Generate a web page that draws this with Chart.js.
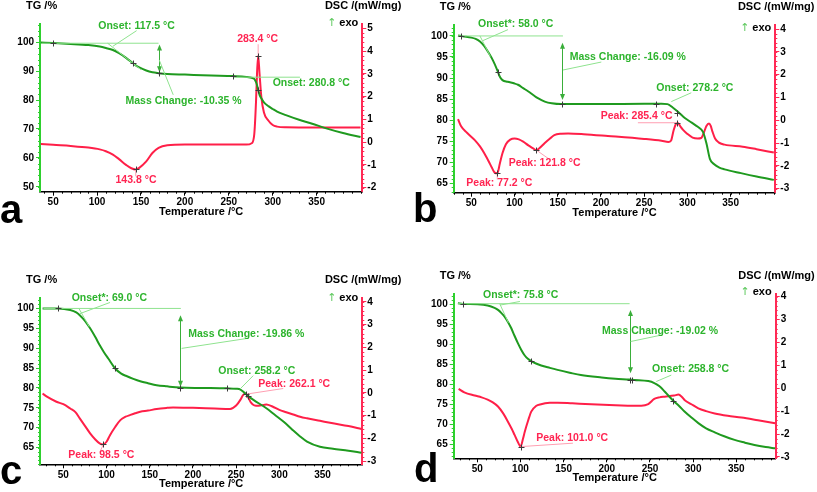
<!DOCTYPE html>
<html>
<head>
<meta charset="utf-8">
<script src="https://cdn.jsdelivr.net/npm/chart.js@4"></script>
<style>
  html, body { margin: 0; padding: 0; background: #fff; }
  body { width: 817px; height: 492px; position: relative; overflow: hidden; }
  canvas { position: absolute; }
</style>
</head>
<body>
<canvas id="ca" width="408" height="245" style="left:0;top:0"></canvas>
<canvas id="cb" width="409" height="245" style="left:408px;top:0"></canvas>
<canvas id="cc" width="408" height="247" style="left:0;top:245px"></canvas>
<canvas id="cd" width="409" height="247" style="left:408px;top:245px"></canvas>
<script>
// ---- panel a ----
const tgTempA = [36, 50, 70, 90, 103, 110, 118, 125, 133, 141, 144, 148, 156, 163, 170, 180, 200, 230, 255, 270, 277, 279, 281, 282, 283.4, 285, 287, 290, 295, 300, 305, 315, 330, 345, 360, 380, 400];
const tgA = [99.9, 99.7, 99.4, 99.0, 98.5, 98.0, 97.3, 96.2, 94.6, 92.7, 92.0, 91.3, 90.2, 89.6, 89.3, 89.0, 88.8, 88.5, 88.3, 88.0, 87.6, 87.3, 86.2, 85.3, 83.6, 81.8, 80.6, 79.2, 77.9, 76.9, 76.0, 74.8, 73.2, 71.8, 70.3, 68.6, 67.2];
const dscTempA = [36, 50, 70, 90, 103, 110, 118, 125, 133, 139, 144, 148, 156, 163, 170, 180, 200, 230, 255, 270, 276, 279, 281, 282, 283.4, 285, 287, 290, 295, 300, 305, 315, 350, 400];
const dscA = [-0.08, -0.12, -0.17, -0.24, -0.32, -0.40, -0.55, -0.75, -1.0, -1.15, -1.2, -1.13, -0.85, -0.48, -0.25, -0.14, -0.11, -0.11, -0.11, -0.11, -0.05, 0.35, 1.8, 2.9, 3.79, 3.0, 2.0, 1.3, 0.95, 0.75, 0.68, 0.65, 0.64, 0.64];

// ---- panel b ----
const tgTempB = [34.6, 40, 50, 55, 60, 65, 70, 75, 80, 83, 86, 92, 100, 104, 110, 116, 122, 127, 135, 143, 154, 200, 250, 270, 277, 283, 290, 297, 305, 312, 318, 322, 326, 331, 337, 343, 362, 380, 400];
const tgB = [100.1, 99.9, 99.6, 99.3, 98.7, 97.6, 96.0, 94.2, 91.9, 90.3, 89.5, 89.1, 88.7, 88.4, 87.6, 86.8, 85.9, 85.2, 84.4, 84.0, 83.8, 83.8, 83.9, 83.9, 83.8, 83.0, 81.8, 80.5, 79.4, 78.4, 77.2, 74.5, 70.8, 69.5, 68.7, 68.3, 67.4, 66.6, 65.8];
const dscTempB = [34.6, 38, 45, 54, 60, 65, 70, 74, 77, 80, 83, 86, 90, 95, 100, 105, 110, 116, 122, 125, 128, 135, 141, 146, 154, 162, 180, 208, 250, 270, 278, 281, 284, 287, 289, 292, 295, 300, 306, 312, 316, 319, 322, 325, 327, 329, 332, 336, 343, 364, 380, 400];
const dscB = [0.05, -0.25, -0.55, -0.87, -1.15, -1.45, -1.8, -2.1, -2.3, -2.33, -1.9, -1.45, -1.05, -0.85, -0.8, -0.84, -0.94, -1.1, -1.25, -1.31, -1.25, -1.0, -0.8, -0.65, -0.59, -0.58, -0.61, -0.69, -0.82, -0.9, -0.95, -0.9, -0.45, -0.15, -0.12, -0.28, -0.42, -0.6, -0.76, -0.8, -0.78, -0.55, -0.25, -0.14, -0.25, -0.5, -0.8, -0.97, -1.07, -1.16, -1.27, -1.42];

// ---- panel c ----
const tgTempC = [26, 44, 58, 65, 69, 75, 81, 87, 92, 97, 102, 110, 117, 123, 131, 139, 148, 158, 170, 185, 210, 239, 250, 255, 260, 265, 270, 285, 295, 305, 315, 324, 332, 347, 362, 380, 395];
const tgC = [100.0, 100.0, 99.6, 99.0, 98.3, 96.9, 95.0, 92.8, 90.8, 89.0, 87.4, 84.9, 83.6, 83.0, 82.3, 81.7, 81.2, 80.7, 80.4, 80.1, 80.0, 79.9, 79.8, 79.6, 78.7, 77.8, 77.0, 74.9, 73.2, 71.5, 69.5, 67.8, 66.5, 65.2, 64.7, 64.2, 63.7];
const dscTempC = [26, 31, 42, 50, 58, 64, 69, 75, 81, 87, 92, 96, 100, 104, 110, 116, 122, 127, 133, 139, 148, 158, 170, 177, 200, 225, 243, 250, 255, 258, 261, 264, 267, 271, 276, 285, 292, 300, 308, 316, 324, 332, 347, 362, 380, 395];
const dscC = [-0.03, -0.17, -0.39, -0.5, -0.69, -0.85, -1.12, -1.45, -1.78, -2.05, -2.22, -2.27, -2.15, -1.86, -1.5, -1.2, -1.05, -0.98, -0.9, -0.83, -0.78, -0.71, -0.66, -0.64, -0.66, -0.69, -0.71, -0.56, -0.3, -0.1, -0.03, -0.2, -0.42, -0.55, -0.57, -0.51, -0.6, -0.75, -0.85, -0.95, -1.05, -1.12, -1.23, -1.34, -1.46, -1.59];

// ---- panel d ----
const tgTempD = [27.6, 33.4, 50, 62, 70, 74, 78, 82, 86, 89.4, 93, 97, 101, 105, 109, 112.5, 118, 124, 134, 143, 157, 170, 194, 210, 226, 232, 248, 255, 261, 267, 272, 277, 284, 290, 298, 306, 315, 325, 336, 348, 360, 371, 384, 395];
const tgD = [100.25, 100.1, 100.0, 99.7, 99.1, 98.6, 97.8, 96.8, 95.4, 94.0, 92.2, 90.3, 88.6, 87.2, 86.3, 85.8, 85.2, 84.7, 84.1, 83.6, 82.9, 82.3, 81.7, 81.4, 81.2, 81.1, 80.8, 80.3, 79.5, 78.2, 77.0, 75.9, 74.5, 73.2, 71.7, 70.3, 69.0, 68.0, 67.0, 66.1, 65.4, 64.8, 64.3, 64.0];
const dscTempD = [28.4, 35, 47, 55, 62, 68, 74, 80, 85.5, 90, 93.2, 97, 100.2, 103, 105, 109, 112.5, 118, 124, 134, 143, 160, 182, 210, 240, 248, 255, 261, 267, 278, 283, 287, 290, 298, 306, 315, 325, 340, 356, 375, 395];
const dscD = [-0.03, -0.18, -0.32, -0.4, -0.5, -0.62, -0.8, -1.1, -1.46, -1.78, -2.04, -2.35, -2.55, -2.2, -1.9, -1.4, -1.02, -0.78, -0.7, -0.64, -0.63, -0.66, -0.7, -0.74, -0.77, -0.7, -0.47, -0.4, -0.37, -0.32, -0.28, -0.38, -0.51, -0.7, -0.88, -1.0, -1.1, -1.2, -1.28, -1.4, -1.53];

// tick labels
const xTicks = [50, 100, 150, 200, 250, 300, 350];
const tgTicksA = [50, 60, 70, 80, 90, 100];
const tgTicks = [65, 70, 75, 80, 85, 90, 95, 100];
const dscTicksA = [-2, -1, 0, 1, 2, 3, 4, 5];
const dscTicks = [-3, -2, -1, 0, 1, 2, 3, 4];

const FONT = 'Arial, "Liberation Sans", sans-serif';
const GREEN = '#1f9a1f', GTEXT = '#2db42d', GLINE = '#8fe38f', GAXIS = '#2ed02e';
const RED = '#ff1f48', RTEXT = '#ff2552', RLINE = '#ff9fb2', RAXIS = '#ff2a55';

// annotations (data units)
const annA = [
  {t: 'line', ax: 'yL', c: GLINE, p: [[37, 99.65], [170, 99.65]]},
  {t: 'line', ax: 'yL', c: GLINE, p: [[112, 99.65], [150, 90.5]]},
  {t: 'line', ax: 'yL', c: GLINE, p: [[145, 104], [118, 98.6]]},
  {t: 'arrow', ax: 'yL', x: 170, y1: 99.2, y2: 89.6},
  {t: 'line', ax: 'yL', c: GLINE, p: [[186.7, 81.8], [170.7, 93.9]]},
  {t: 'line', ax: 'yL', c: GLINE, p: [[255, 87.9], [331, 87.9]]},
  {t: 'text', ax: 'yL', c: GTEXT, x: 101.3, y: 105.4, s: 'Onset: 117.5 °C'},
  {t: 'text', ax: 'yL', c: GTEXT, x: 132.4, y: 79.7, s: 'Mass Change: -10.35 %'},
  {t: 'text', ax: 'yL', c: GTEXT, x: 299.9, y: 85.8, s: 'Onset: 280.8 °C'},
  {t: 'line', ax: 'yR', c: RLINE, p: [[283.4, 4.3], [283.4, 3.85]]},
  {t: 'line', ax: 'yR', c: RLINE, p: [[144, -1.25], [144, -1.5]]},
  {t: 'text', ax: 'yR', c: RTEXT, x: 282.8, y: 4.52, s: '283.4 °C', al: 'center'},
  {t: 'text', ax: 'yR', c: RTEXT, x: 144.3, y: -1.69, s: '143.8 °C', al: 'center'},
  {t: 'plus', ax: 'yL', pts: [[50, 99.8], [141, 92.7], [170, 89.25], [255, 88.3], [283.4, 83.6]]},
  {t: 'plus', ax: 'yR', pts: [[144, -1.2], [283.4, 3.79]]}
];
const annB = [
  {t: 'line', ax: 'yL', c: GLINE, p: [[34.6, 100], [156, 100]]},
  {t: 'line', ax: 'yL', c: GLINE, p: [[60, 100], [72, 95.1]]},
  {t: 'line', ax: 'yL', c: GLINE, p: [[92.4, 101.5], [63.5, 98.9]]},
  {t: 'arrow', ax: 'yL', x: 154.9, y1: 98.4, y2: 84.8},
  {t: 'line', ax: 'yL', c: GLINE, p: [[156, 91.9], [200.4, 93.8]]},
  {t: 'line', ax: 'yL', c: GLINE, p: [[281.4, 84.4], [304.5, 86.5]]},
  {t: 'text', ax: 'yL', c: GTEXT, x: 57.7, y: 102.85, s: 'Onset*: 58.0 °C'},
  {t: 'text', ax: 'yL', c: GTEXT, x: 163.8, y: 94.9, s: 'Mass Change: -16.09 %'},
  {t: 'text', ax: 'yL', c: GTEXT, x: 264, y: 87.6, s: 'Onset: 278.2 °C'},
  {t: 'line', ax: 'yR', c: RLINE, p: [[80, -2.36], [80, -2.6]]},
  {t: 'line', ax: 'yR', c: RLINE, p: [[125.2, -1.31], [138.7, -1.67]]},
  {t: 'line', ax: 'yR', c: RLINE, p: [[242.7, -0.11], [288.3, -0.11]]},
  {t: 'text', ax: 'yR', c: RTEXT, x: 44.2, y: -2.74, s: 'Peak: 77.2 °C'},
  {t: 'text', ax: 'yR', c: RTEXT, x: 93.2, y: -1.86, s: 'Peak: 121.8 °C'},
  {t: 'text', ax: 'yR', c: RTEXT, x: 199.6, y: 0.2, s: 'Peak: 285.4 °C'},
  {t: 'plus', ax: 'yL', pts: [[38, 100], [80.9, 91.5], [155, 83.8], [264, 83.9], [288.3, 81.8]]},
  {t: 'plus', ax: 'yR', pts: [[80, -2.33], [125.2, -1.31], [288.3, -0.11]]}
];
const annC = [
  {t: 'line', ax: 'yL', c: GLINE, p: [[26.9, 100], [186, 100]]},
  {t: 'line', ax: 'yL', c: GLINE, p: [[68, 100], [80, 95.4]]},
  {t: 'line', ax: 'yL', c: GLINE, p: [[104, 101.5], [69.3, 98.7]]},
  {t: 'arrow', ax: 'yL', x: 185.4, y1: 98.3, y2: 80.3},
  {t: 'line', ax: 'yL', c: GLINE, p: [[186.9, 89.95], [264, 92.5]]},
  {t: 'line', ax: 'yL', c: GLINE, p: [[254.4, 79.7], [269.8, 83.1]]},
  {t: 'text', ax: 'yL', c: GTEXT, x: 59.6, y: 102.7, s: 'Onset*: 69.0 °C'},
  {t: 'text', ax: 'yL', c: GTEXT, x: 194.6, y: 93.55, s: 'Mass Change: -19.86 %'},
  {t: 'text', ax: 'yL', c: GTEXT, x: 229.3, y: 84.3, s: 'Onset: 258.2 °C'},
  {t: 'line', ax: 'yR', c: RLINE, p: [[261.3, -0.06], [304.5, 0.19]]},
  {t: 'line', ax: 'yR', c: RLINE, p: [[96.3, -2.27], [92.4, -2.59]]},
  {t: 'text', ax: 'yR', c: RTEXT, x: 275.6, y: 0.38, s: 'Peak: 262.1 °C'},
  {t: 'text', ax: 'yR', c: RTEXT, x: 55.8, y: -2.73, s: 'Peak: 98.5 °C'},
  {t: 'plus', ax: 'yL', pts: [[44.2, 100], [109.8, 84.9], [185, 80.1], [239, 79.9], [264, 77.9]]},
  {t: 'plus', ax: 'yR', pts: [[96.3, -2.27], [261.3, -0.06]]}
];
const annD = [
  {t: 'line', ax: 'yL', c: GLINE, p: [[27.6, 100.15], [226.4, 100.15]]},
  {t: 'line', ax: 'yL', c: GLINE, p: [[76, 100.15], [86, 95.4]]},
  {t: 'line', ax: 'yL', c: GLINE, p: [[76.3, 99.8], [99.4, 100.7]]},
  {t: 'arrow', ax: 'yL', x: 226.4, y1: 98.6, y2: 82.75},
  {t: 'line', ax: 'yL', c: GLINE, p: [[227.6, 90.7], [263.1, 92.3]]},
  {t: 'line', ax: 'yL', c: GLINE, p: [[257.3, 80.7], [274.7, 82.3]]},
  {t: 'text', ax: 'yL', c: GTEXT, x: 56.6, y: 102.2, s: 'Onset*: 75.8 °C'},
  {t: 'text', ax: 'yL', c: GTEXT, x: 194.4, y: 93.3, s: 'Mass Change: -19.02 %'},
  {t: 'text', ax: 'yL', c: GTEXT, x: 252.3, y: 83.8, s: 'Onset: 258.8 °C'},
  {t: 'line', ax: 'yR', c: RLINE, p: [[100.2, -2.55], [160.8, -2.4]]},
  {t: 'text', ax: 'yR', c: RTEXT, x: 118.3, y: -2.16, s: 'Peak: 101.0 °C'},
  {t: 'plus', ax: 'yL', pts: [[33.4, 100.1], [112.5, 85.8], [226.4, 81.2], [229.5, 81.2], [276.6, 75.9]]},
  {t: 'plus', ax: 'yR', pts: [[100.2, -2.55]]}
];

Chart.defaults.font.family = FONT;
Chart.defaults.font.weight = 'bold';
Chart.defaults.font.size = 10;
Chart.defaults.color = '#000';

const YL_W = 40, YR_W = 30, X_H = 20;

function pts(xs, ys) {
  return xs.map((x, i) => ({x: x, y: ys[i]}));
}

function minorTicks(ctx, s, step, color, len) {
  const n0 = Math.ceil(s.min / step - 1e-6), n1 = Math.floor(s.max / step + 1e-6);
  ctx.strokeStyle = color;
  ctx.lineWidth = 1;
  ctx.beginPath();
  for (let n = n0; n <= n1; n++) {
    const p = Math.round(s.getPixelForValue(n * step)) + 0.5;
    if (s.axis === 'x') { ctx.moveTo(p, s.top); ctx.lineTo(p, s.top + len); }
    else if (s.position === 'left') { ctx.moveTo(s.right, p); ctx.lineTo(s.right - len, p); }
    else { ctx.moveTo(s.left, p); ctx.lineTo(s.left + len, p); }
  }
  ctx.stroke();
}

const decor = {
  id: 'decor',
  afterDatasetsDraw(chart, args, o) {
    const ctx = chart.ctx, sx = chart.scales.x;
    ctx.save();
    ctx.lineCap = 'butt';
    for (const it of o.items) {
      const sy = chart.scales[it.ax];
      const X = v => sx.getPixelForValue(v), Y = v => sy.getPixelForValue(v);
      if (it.t === 'line') {
        ctx.strokeStyle = it.c; ctx.lineWidth = 1;
        ctx.beginPath();
        ctx.moveTo(X(it.p[0][0]), Y(it.p[0][1]));
        ctx.lineTo(X(it.p[1][0]), Y(it.p[1][1]));
        ctx.stroke();
      } else if (it.t === 'arrow') {
        const x = Math.round(X(it.x)) + 0.5, a = Y(it.y1), b = Y(it.y2);
        ctx.strokeStyle = '#3aae3a'; ctx.fillStyle = '#3aae3a'; ctx.lineWidth = 1;
        ctx.beginPath(); ctx.moveTo(x, a + 2); ctx.lineTo(x, b - 2); ctx.stroke();
        ctx.beginPath(); ctx.moveTo(x, a); ctx.lineTo(x - 2.5, a + 6); ctx.lineTo(x + 2.5, a + 6); ctx.closePath(); ctx.fill();
        ctx.beginPath(); ctx.moveTo(x, b); ctx.lineTo(x - 2.5, b - 6); ctx.lineTo(x + 2.5, b - 6); ctx.closePath(); ctx.fill();
      } else if (it.t === 'text') {
        ctx.font = 'bold 10.5px ' + FONT;
        ctx.fillStyle = it.c;
        ctx.textAlign = it.al || 'left';
        ctx.textBaseline = 'middle';
        ctx.fillText(it.s, X(it.x), Y(it.y));
      } else if (it.t === 'plus') {
        ctx.strokeStyle = '#3a3a3a'; ctx.lineWidth = 1;
        for (const p of it.pts) {
          const x = Math.round(X(p[0])) + 0.5, y = Math.round(Y(p[1])) + 0.5;
          ctx.beginPath();
          ctx.moveTo(x - 3, y); ctx.lineTo(x + 3, y);
          ctx.moveTo(x, y - 3); ctx.lineTo(x, y + 3);
          ctx.stroke();
        }
      }
    }
    ctx.restore();
  },
  afterDraw(chart, args, o) {
    const ctx = chart.ctx, a = chart.chartArea, s = chart.scales;
    ctx.save();
    minorTicks(ctx, s.x, 10, '#000', 2);
    minorTicks(ctx, s.yL, o.tgMinor, GAXIS, 2);
    minorTicks(ctx, s.yR, 0.2, RAXIS, 2);
    ctx.fillStyle = '#000';
    ctx.font = 'bold 11px ' + FONT;
    ctx.textBaseline = 'middle';
    ctx.textAlign = 'left';
    ctx.fillText('TG /%', a.left - 14, a.top - 18);
    ctx.textAlign = 'right';
    ctx.fillText('DSC /(mW/mg)', a.right + 39, a.top - 18);
    ctx.fillText('exo', a.right - 4, a.top + o.exoDy);
    const w = ctx.measureText('exo').width;
    ctx.fillStyle = '#5cc85c';
    ctx.font = '11px "DejaVu Sans", sans-serif';
    ctx.fillText('\u2191', a.right - 7 - w, a.top + o.exoDy);
    ctx.fillStyle = '#000';
    ctx.font = 'bold 11px ' + FONT;
    ctx.textAlign = 'center';
    ctx.fillText('Temperature /°C', (a.left + a.right) / 2, a.bottom + 20);
    ctx.font = 'bold 40px ' + FONT;
    ctx.textAlign = 'left';
    ctx.textBaseline = 'alphabetic';
    ctx.fillText(o.letter, o.letterX, o.letterY);
    ctx.restore();
  }
};

function makePanel(id, box, area, xr, tgR, dscR, tgT, dscT, tgMinor, series, items, letter, letterPos, exoDy) {
  new Chart(document.getElementById(id), {
    type: 'line',
    data: {
      datasets: [
        {data: pts(series[0], series[1]), yAxisID: 'yL', borderColor: GREEN, borderWidth: 2, pointRadius: 0, cubicInterpolationMode: 'monotone'},
        {data: pts(series[2], series[3]), yAxisID: 'yR', borderColor: RED, borderWidth: 2, pointRadius: 0, cubicInterpolationMode: 'monotone'}
      ]
    },
    options: {
      responsive: false,
      animation: false,
      devicePixelRatio: 1,
      layout: {
        padding: {
          left: area.l - box.x - YL_W,
          right: box.x + box.w - area.r - YR_W,
          top: area.t - box.y,
          bottom: box.y + box.h - area.b - X_H
        }
      },
      plugins: {
        legend: {display: false},
        tooltip: {enabled: false},
        decor: {items: items, letter: letter, letterX: letterPos[0], letterY: letterPos[1], tgMinor: tgMinor, exoDy: exoDy}
      },
      scales: {
        x: {
          type: 'linear', min: xr[0], max: xr[1],
          afterBuildTicks: s => { s.ticks = xTicks.map(v => ({value: v})); },
          afterFit: s => { s.height = X_H; },
          grid: {drawOnChartArea: false, drawTicks: true, tickLength: 4, color: '#000'},
          border: {color: '#000', width: 1.5},
          ticks: {padding: 1, maxRotation: 0, autoSkip: false}
        },
        yL: {
          type: 'linear', position: 'left', min: tgR[0], max: tgR[1],
          afterBuildTicks: s => { s.ticks = tgT.map(v => ({value: v})); },
          afterFit: s => { s.width = YL_W; },
          grid: {drawOnChartArea: false, drawTicks: true, tickLength: 4, color: GAXIS},
          border: {color: GAXIS, width: 2},
          ticks: {padding: 2, autoSkip: false}
        },
        yR: {
          type: 'linear', position: 'right', min: dscR[0], max: dscR[1],
          afterBuildTicks: s => { s.ticks = dscT.map(v => ({value: v})); },
          afterFit: s => { s.width = YR_W; },
          grid: {drawOnChartArea: false, drawTicks: true, tickLength: 4, color: RAXIS},
          border: {color: RAXIS, width: 2},
          ticks: {padding: 1, autoSkip: false}
        }
      }
    },
    plugins: [decor]
  });
}

makePanel('ca', {x: 0, y: 0, w: 408, h: 245}, {l: 40, r: 362.3, t: 24, b: 191.7},
  [35, 402], [48.3, 106.3], [-2.18, 5.19], tgTicksA, dscTicksA, 2,
  [tgTempA, tgA, dscTempA, dscA], annA, 'a', [0, 223], -1);
makePanel('cb', {x: 408, y: 0, w: 409, h: 245}, {l: 453.7, r: 775.3, t: 25, b: 192.7},
  [29.6, 401.7], [62.75, 102.6], [-3.18, 4.18], tgTicks, dscTicks, 1,
  [tgTempB, tgB, dscTempB, dscB], annB, 'b', [5, 222], 3);
makePanel('cc', {x: 0, y: 245, w: 408, h: 247}, {l: 40, r: 362.3, t: 297.7, b: 464.3},
  [23, 396], [60.8, 102.7], [-3.14, 4.18], tgTicks, dscTicks, 1,
  [tgTempC, tgC, dscTempC, dscC], annC, 'c', [0, 239], 0);
makePanel('cd', {x: 408, y: 245, w: 409, h: 247}, {l: 453.7, r: 775.7, t: 294.3, b: 458.3},
  [22.7, 395.6], [61.5, 102.5], [-3.06, 4.1], tgTicks, dscTicks, 1,
  [tgTempD, tgD, dscTempD, dscD], annD, 'd', [6, 237], -2);
</script>
</body>
</html>
